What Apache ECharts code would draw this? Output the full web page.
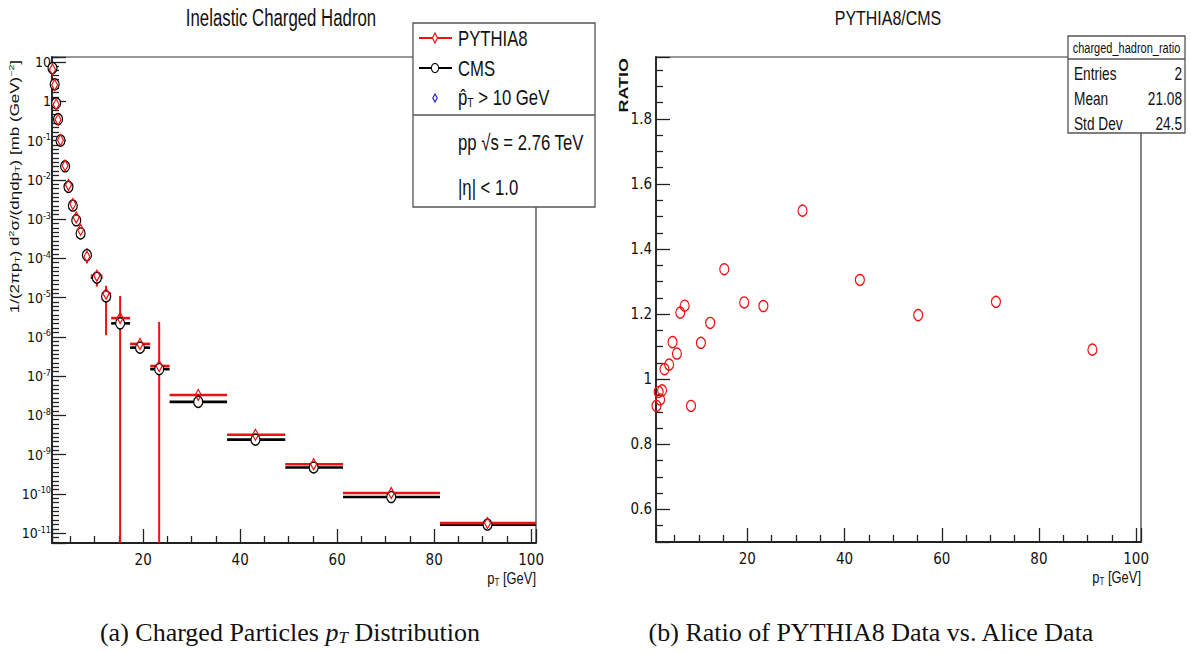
<!DOCTYPE html>
<html>
<head>
<meta charset="utf-8">
<title>Inelastic Charged Hadron</title>
<script src="https://cdn.jsdelivr.net/npm/echarts@6/dist/echarts.min.js"></script>
<style>
  html, body { margin: 0; padding: 0; background: #fff; }
  #chart { width: 1191px; height: 654px; }
</style>
</head>
<body>
<div id="chart"></div>
<script>
// pT bin centres (GeV) shared by both panels
var ptCenters = [1.3, 1.75, 2.05, 2.45, 2.95, 3.9, 4.6, 5.5, 6.2, 7.1, 8.4, 10.45, 12.35, 15.25, 19.35, 23.3, 31.35, 43.15, 55.15, 71.15, 91.0];
// bin edges (one more than centres)
var binEdges = [1.2, 1.5, 1.9, 2.2, 2.7, 3.4, 4.4, 5.0, 5.8, 6.6, 7.6, 9.2, 11.6, 13.4, 17.3, 21.45, 25.45, 37.3, 49.3, 61.2, 81.2, 101];
// CMS yield  1/(2pi pT) d2sigma/(deta dpT)
var cmsYield = [7.0, 2.7, 0.89, 0.35, 0.10, 0.022, 0.0066, 0.0022, 9.3e-4, 4.3e-4, 1.2e-4, 3.2e-5, 1.07e-5, 2.2e-6, 5.3e-7, 1.5e-7, 2.2e-8, 2.4e-9, 4.7e-10, 8.3e-11, 1.65e-11];
// PYTHIA8 yield
var pythiaYield = [6.4, 2.6, 0.83, 0.34, 0.103, 0.023, 0.0074, 0.0024, 1.1e-3, 5.3e-4, 1.1e-4, 3.6e-5, 1.25e-5, 3.0e-6, 6.6e-7, 1.8e-7, 3.3e-8, 3.2e-9, 5.7e-10, 1.05e-10, 1.8e-11];
// PYTHIA8 error bar ends (null = none drawn, 0 = runs below the axis)
var pythiaErrLow  = [null, null, null, null, null, null, null, null, null, null, 7.4e-5, 1.9e-5, 1.1e-6, 0, null, 0, null, null, null, null, null];
var pythiaErrHigh = [null, null, null, null, null, null, null, null, null, null, 1.8e-4, 4.5e-5, 2.0e-5, 1.1e-5, null, 2.4e-6, null, null, null, null, null];
// PYTHIA8 / CMS ratio
var ratioValues = [0.918, 0.961, 0.938, 0.966, 1.031, 1.045, 1.114, 1.079, 1.205, 1.226, 0.918, 1.112, 1.173, 1.338, 1.236, 1.225, 1.518, 1.305, 1.197, 1.238, 1.091];
// left panel y range
var yieldMin = 5.6e-12, yieldMax = 13.4;
// stats box
var statsTitle = 'charged_hadron_ratio';
var statsRows = [['Entries', '2'], ['Mean', '21.08'], ['Std Dev', '24.5']];

/*------------------------- helpers ----------------------------*/
var RED = '#ee1111';
var SANS = 'Liberation Sans';
var NARROW = '"Liberation Sans Narrow", "DejaVu Sans Condensed", "Liberation Sans"';
var SQ = 0.76; // horizontal squeeze of the original figure

function pairs(xs, ys) {
    var out = [];
    for (var i = 0; i < xs.length; i++) out.push([xs[i], ys[i]]);
    return out;
}
function binRows(ys) {
    var out = [];
    for (var i = 0; i < ys.length; i++) out.push([binEdges[i], binEdges[i + 1], ys[i]]);
    return out;
}
function errRows() {
    var out = [];
    for (var i = 0; i < ptCenters.length; i++) {
        if (pythiaErrHigh[i] == null) continue;
        out.push([ptCenters[i], pythiaErrLow[i], pythiaErrHigh[i]]);
    }
    return out;
}
function renderBin(color) {
    return function (params, api) {
        var a = api.coord([api.value(0), api.value(2)]);
        var b = api.coord([api.value(1), api.value(2)]);
        return {
            type: 'line',
            shape: { x1: a[0], y1: a[1], x2: b[0], y2: b[1] },
            style: { stroke: color, lineWidth: 2.6 }
        };
    };
}
function renderErr(params, api) {
    var cs = params.coordSys;
    var lo = api.value(1);
    var top = api.coord([api.value(0), api.value(2)]);
    var yLo = (lo > 0) ? api.coord([api.value(0), lo])[1] : cs.y + cs.height;
    return {
        type: 'line',
        shape: { x1: top[0], y1: top[1], x2: top[0], y2: yLo },
        style: { stroke: RED, lineWidth: 2 }
    };
}
// the tick axis runs in decades (log10 of the yield)
function decadeLabel(e) {
    var r = Math.round(e);
    if (Math.abs(e - r) > 1e-6) return '';
    if (r === 0) return '1';
    if (r === 1) return '10';
    return '10{sup|' + r + '}';
}
function xLabel(v) {
    return (Math.abs(v % 20) < 1e-6) ? String(v) : '';
}
function ratioLabel(v) {
    return (Math.abs(v * 5 - Math.round(v * 5)) < 1e-6) ? String(Math.round(v * 10) / 10) : '';
}

var axisLineStyle = { color: '#222', width: 1.8 };
var tickStyle = { color: '#222', width: 1.3 };
var labelBase = { color: '#111', fontFamily: NARROW, fontSize: 15 };

function xAxisCfg(grid) {
    return {
        type: 'value', gridIndex: grid, min: 1.2, max: 101, splitNumber: 5,
        axisLine: { onZero: false, lineStyle: axisLineStyle },
        axisTick: { inside: true, length: 14, lineStyle: tickStyle },
        minorTick: { show: true, splitNumber: 4, length: 7, lineStyle: tickStyle },
        splitLine: { show: false },
        axisLabel: Object.assign({ margin: 9, formatter: xLabel }, labelBase)
    };
}

/*------------------------- texts drawn on top ----------------------------*/
function txt(x, y, text, size, opt) {
    opt = opt || {};
    return {
        type: 'text', x: x, y: y, z: 110,
        rotation: opt.rotation || 0,
        scaleX: opt.scaleX == null ? SQ : opt.scaleX,
        scaleY: opt.scaleY == null ? 1 : opt.scaleY,
        silent: true,
        style: {
            text: text, fill: opt.fill || '#111',
            fontFamily: opt.family || SANS, fontSize: size,
            fontWeight: opt.bold ? 'bold' : 'normal',
            align: opt.align || 'left', verticalAlign: opt.va || 'middle',
            rich: opt.rich
        }
    };
}
var subRich = function (size, family) {
    return {
        sub: { fontSize: size * 0.62, fontFamily: family || SANS, verticalAlign: 'bottom', fill: '#111', padding: [size * 0.5, 0, 0, 0] },
        sup: { fontSize: size * 0.62, fontFamily: family || SANS, verticalAlign: 'top', fill: '#111', padding: [0, 0, size * 0.5, 0] }
    };
};
var capRich = {
    it: { fontFamily: 'Liberation Serif', fontSize: 26, fontStyle: 'italic', fill: '#111' },
    itsub: { fontFamily: 'Liberation Serif', fontSize: 17, fontStyle: 'italic', fill: '#111', verticalAlign: 'bottom', padding: [11, 0, 0, 0] }
};

var graphics = [
    // legend box (left panel)
    { type: 'rect', z: 100, shape: { x: 413, y: 23, width: 182, height: 184 }, style: { fill: '#fff', stroke: '#555', lineWidth: 1.3 } },
    { type: 'line', z: 101, shape: { x1: 413, y1: 115, x2: 595, y2: 115 }, style: { stroke: '#555', lineWidth: 1.3 } },
    { type: 'line', z: 101, shape: { x1: 419, y1: 38, x2: 452, y2: 38 }, style: { stroke: RED, lineWidth: 2 } },
    { type: 'polygon', z: 102, shape: { points: [[435, 33], [437.5, 38], [435, 43], [432.5, 38]] }, style: { fill: '#fff', stroke: RED, lineWidth: 1.2 } },
    { type: 'line', z: 101, shape: { x1: 419, y1: 68, x2: 452, y2: 68 }, style: { stroke: '#000', lineWidth: 2 } },
    { type: 'circle', z: 102, x: 435, y: 68, scaleX: 0.8, shape: { cx: 0, cy: 0, r: 4.5 }, style: { fill: '#fff', stroke: '#000', lineWidth: 1.2 } },
    { type: 'polygon', z: 102, shape: { points: [[435, 94], [437.2, 98], [435, 102], [432.8, 98]] }, style: { fill: '#fff', stroke: '#2222ee', lineWidth: 1.2 } },
    txt(458, 38, 'PYTHIA8', 22),
    txt(458, 68, 'CMS', 22),
    txt(458, 97, 'p\u0302{sub|T} > 10 GeV', 22, { rich: subRich(22) }),
    txt(458, 142, 'pp \u221As = 2.76 TeV', 22),
    txt(458, 187, '|\u03B7| < 1.0', 22),
    // stats box (right panel)
    { type: 'rect', z: 100, shape: { x: 1068, y: 36, width: 117, height: 97 }, style: { fill: '#fff', stroke: '#555', lineWidth: 1.3 } },
    { type: 'line', z: 101, shape: { x1: 1068, y1: 59, x2: 1185, y2: 59 }, style: { stroke: '#555', lineWidth: 1.3 } },
    txt(1126.5, 48, statsTitle, 14.5, { align: 'center' }),
    // titles
    txt(281, 18, 'Inelastic Charged Hadron', 23, { align: 'center', scaleX: 0.73 }),
    txt(888, 18, 'PYTHIA8/CMS', 21, { align: 'center' }),
    // axis titles
    txt(15, 60, '1/(2\u03C0p{sub|T}) d{sup|2}\u03C3/(d\u03B7dp{sub|T}) [mb (GeV){sup|\u22122}]', 17,
        { rotation: Math.PI / 2, align: 'right', scaleX: 1, scaleY: 0.7, rich: subRich(17) }),
    txt(623, 58, 'RATIO', 18, { rotation: Math.PI / 2, align: 'right', scaleX: 1, scaleY: SQ, bold: true }),
    txt(536, 578, 'p{sub|T} [GeV]', 17, { align: 'right', rich: subRich(17) }),
    txt(1141, 577, 'p{sub|T} [GeV]', 17, { align: 'right', rich: subRich(17) }),
    // captions
    txt(290, 632, '(a) Charged Particles {it|p}{itsub|T} Distribution', 26,
        { align: 'center', scaleX: 1, family: 'Liberation Serif', rich: capRich }),
    txt(871, 632, '(b) Ratio of PYTHIA8 Data vs. Alice Data', 26, { align: 'center', scaleX: 1, family: 'Liberation Serif' })
];
for (var s = 0; s < statsRows.length; s++) {
    graphics.push(txt(1074, 74 + s * 25, statsRows[s][0], 18));
    graphics.push(txt(1182, 74 + s * 25, statsRows[s][1], 18, { align: 'right' }));
}

/*------------------------- chart ----------------------------*/
var myChart = echarts.init(document.getElementById('chart'), null, { renderer: 'svg' });
var option = {
    animation: false,
    backgroundColor: '#fff',
    grid: [
        { left: 52, top: 57, width: 484, height: 486, show: true, borderColor: '#333', borderWidth: 1.2, containLabel: false, outerBoundsMode: 'none' },
        { left: 656, top: 57, width: 485, height: 485, show: true, borderColor: '#333', borderWidth: 1.2, containLabel: false, outerBoundsMode: 'none' }
    ],
    xAxis: [xAxisCfg(0), xAxisCfg(1)],
    yAxis: [
        // log axis that places the yields
        {
            type: 'log', gridIndex: 0, logBase: 10, min: yieldMin, max: yieldMax, position: 'left',
            axisLine: { show: false, onZero: false }, axisTick: { show: false }, minorTick: { show: false },
            axisLabel: { show: false }, splitLine: { show: false }
        },
        {
            type: 'value', gridIndex: 1, min: 0.5, max: 1.99, splitNumber: 7,
            axisLine: { onZero: false, lineStyle: axisLineStyle },
            axisTick: { inside: true, length: 14, lineStyle: tickStyle },
            minorTick: { show: true, splitNumber: 4, length: 7, lineStyle: tickStyle },
            splitLine: { show: false },
            axisLabel: Object.assign({ margin: 4, formatter: ratioLabel }, labelBase)
        },
        // same range in decades, draws one tick per power of ten
        {
            type: 'value', gridIndex: 0, position: 'left', offset: 0,
            min: Math.log10(yieldMin), max: Math.log10(yieldMax), splitNumber: 12,
            axisLine: { onZero: false, lineStyle: axisLineStyle },
            axisTick: { inside: true, length: 14, lineStyle: tickStyle },
            minorTick: { show: true, splitNumber: 9, length: 7, lineStyle: tickStyle },
            splitLine: { show: false },
            axisLabel: Object.assign({}, labelBase, {
                margin: 1, fontSize: 14, formatter: decadeLabel,
                rich: { sup: { fontFamily: NARROW, fontSize: 9, color: '#111', verticalAlign: 'top', padding: [0, 0, 7, 0] } }
            })
        }
    ],
    series: [
        {
            name: 'CMS bins', type: 'custom', xAxisIndex: 0, yAxisIndex: 0, z: 2, silent: true,
            renderItem: renderBin('#000'), encode: { x: [0, 1], y: 2 }, data: binRows(cmsYield)
        },
        {
            name: 'PYTHIA8 bins', type: 'custom', xAxisIndex: 0, yAxisIndex: 0, z: 2, silent: true,
            renderItem: renderBin(RED), encode: { x: [0, 1], y: 2 }, data: binRows(pythiaYield)
        },
        {
            name: 'PYTHIA8 errors', type: 'custom', xAxisIndex: 0, yAxisIndex: 0, z: 2, silent: true,
            renderItem: renderErr, encode: { x: 0, y: [1, 2] }, data: errRows()
        },
        {
            name: 'CMS', type: 'scatter', xAxisIndex: 0, yAxisIndex: 0, z: 3, silent: true,
            symbol: 'circle', symbolSize: [9, 11],
            itemStyle: { color: '#fff', borderColor: '#000', borderWidth: 1.3, opacity: 1 },
            data: pairs(ptCenters, cmsYield)
        },
        {
            name: 'PYTHIA8', type: 'scatter', xAxisIndex: 0, yAxisIndex: 0, z: 4, silent: true,
            symbol: 'diamond', symbolSize: [6, 11],
            itemStyle: { color: 'rgba(255,255,255,0)', borderColor: RED, borderWidth: 1.3, opacity: 1 },
            data: pairs(ptCenters, pythiaYield)
        },
        {
            name: 'charged_hadron_ratio', type: 'scatter', xAxisIndex: 1, yAxisIndex: 1, z: 3, silent: true,
            symbol: 'circle', symbolSize: [9, 11],
            itemStyle: { color: 'rgba(255,255,255,0)', borderColor: RED, borderWidth: 1.3, opacity: 1 },
            data: pairs(ptCenters, ratioValues)
        }
    ],
    graphic: { elements: graphics }
};
myChart.setOption(option);
</script>
</body>
</html>
